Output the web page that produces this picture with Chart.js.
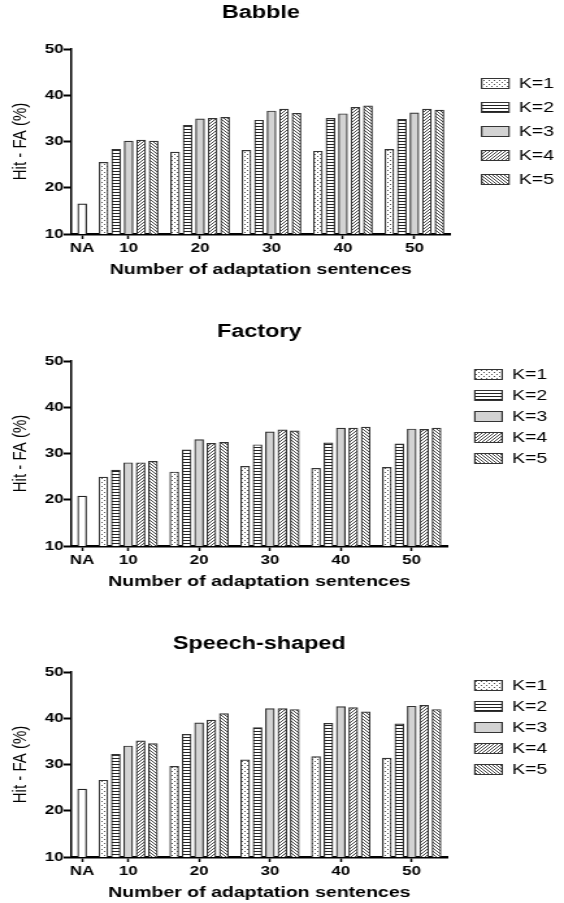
<!DOCTYPE html>
<html>
<head>
<meta charset="utf-8">
<script src="https://cdn.jsdelivr.net/npm/chart.js@4"></script>
<style>
  body { margin: 0; overflow: hidden; background: #fff; }
  #wrap { position: relative; width: 564px; height: 903px; overflow: hidden; }
  /* the figure is stretched sideways, so every panel is drawn narrow and widened */
  canvas { position: absolute; left: 0; transform: scaleX(1.2995); transform-origin: 0 0; }
</style>
</head>
<body>
<div id="wrap">
  <canvas id="babble" width="434" height="290"></canvas>
  <canvas id="factory" width="434" height="290"></canvas>
  <canvas id="speech" width="434" height="290"></canvas>
</div>
<script>
const categories = ['NA', '10', '20', '30', '40', '50'];
const seriesLabels = ['K=1', 'K=2', 'K=3', 'K=4', 'K=5'];
const yTicks = [10, 20, 30, 40, 50];

// Babble
const babbleNA = 16.5;
const babbleK1 = [25.5, 27.7, 28.1, 27.9, 28.3];
const babbleK2 = [28.3, 33.5, 34.6, 35.0, 34.8];
const babbleK3 = [30.1, 34.9, 36.6, 36.0, 36.2];
const babbleK4 = [30.3, 35.0, 37.0, 37.4, 37.0];
const babbleK5 = [30.1, 35.2, 36.1, 37.7, 36.8];

// Factory
const factoryNA = 20.8;
const factoryK1 = [24.9, 26.0, 27.2, 26.8, 27.0];
const factoryK2 = [26.4, 30.8, 31.9, 32.3, 32.1];
const factoryK3 = [28.0, 33.0, 34.7, 35.5, 35.3];
const factoryK4 = [28.0, 32.2, 35.1, 35.5, 35.2];
const factoryK5 = [28.3, 32.4, 34.9, 35.7, 35.5];

// Speech-shaped
const speechNA = 24.7;
const speechK1 = [26.6, 29.6, 31.0, 31.7, 31.4];
const speechK2 = [32.2, 36.5, 38.0, 38.9, 38.8];
const speechK3 = [34.0, 39.0, 42.1, 42.5, 42.6];
const speechK4 = [35.1, 39.6, 42.1, 42.3, 42.8];
const speechK5 = [34.5, 41.0, 41.9, 41.4, 41.9];

Chart.defaults.font.family = "'Liberation Sans', Arial, sans-serif";
Chart.defaults.color = '#000';

// x positions: groups sit at their sentence count, NA bar a bit left of 10
const NA_X = 3.5;
const BAR_STEP = 1.75;
const groupX = categories.slice(1).map(Number);
const tickX = [NA_X].concat(groupX);

function pattern(w, h, draw) {
  const c = document.createElement('canvas');
  c.width = w;
  c.height = h;
  const g = c.getContext('2d');
  g.fillStyle = '#fff';
  g.fillRect(0, 0, w, h);
  draw(g);
  return g.createPattern(c, 'repeat');
}

const fills = [
  pattern(4, 4, g => { g.fillStyle = '#555'; g.fillRect(0, 0, 1, 1); g.fillRect(2, 2, 1, 1); }),
  pattern(4, 3, g => { g.fillStyle = '#222'; g.fillRect(0, 0, 4, 1); }),
  '#d3d3d3',
  pattern(3, 3, g => { g.fillStyle = '#444'; g.fillRect(2, 0, 1, 1); g.fillRect(1, 1, 1, 1); g.fillRect(0, 2, 1, 1); }),
  pattern(3, 3, g => { g.fillStyle = '#444'; g.fillRect(0, 0, 1, 1); g.fillRect(1, 1, 1, 1); g.fillRect(2, 2, 1, 1); })
];

function drawPanel(id, title, naValue, kSeries, look) {
  const canvas = document.getElementById(id);
  canvas.style.top = look.top + 'px';

  const datasets = [{
    label: 'NA',
    data: [{x: NA_X, y: naValue}],
    backgroundColor: '#fff',
    borderColor: '#222',
    borderWidth: 1.2
  }];
  kSeries.forEach((vals, k) => {
    datasets.push({
      label: seriesLabels[k],
      data: groupX.map((g, i) => ({x: g + (k - 2) * BAR_STEP, y: vals[i]})),
      backgroundColor: fills[k],
      borderColor: '#333',
      borderWidth: 1.2
    });
  });

  new Chart(canvas, {
    type: 'bar',
    data: {datasets: datasets},
    options: {
      responsive: false,
      animation: false,
      events: [],
      grouped: false,
      barPercentage: 1,
      categoryPercentage: 1,
      maxBarThickness: 6.8,
      layout: {padding: {left: 0, right: look.padRight, top: 0, bottom: 10}},
      plugins: {
        title: {
          display: true,
          text: title,
          fullSize: false,
          font: {size: 18, weight: 'bold'},
          padding: {top: look.titleTop, bottom: look.titleBottom}
        },
        legend: {
          position: 'right',
          align: 'start',
          fullSize: false,
          title: {
            display: look.legendDrop > 0,
            text: ' ',
            font: {size: 1, lineHeight: 1},
            padding: {top: 0, bottom: look.legendDrop}
          },
          labels: {
            boxWidth: 21,
            boxHeight: 10,
            padding: look.legendPad,
            font: {size: 15},
            color: '#000',
            filter: item => item.datasetIndex > 0
          }
        },
        tooltip: {enabled: false}
      },
      scales: {
        x: {
          type: 'linear',
          offset: false,
          min: 2,
          max: 55,
          afterBuildTicks: scale => { scale.ticks = tickX.map(v => ({value: v})); },
          afterFit: scale => { scale.height = 46; },
          ticks: {
            font: {size: 13, weight: 'bold'},
            color: '#000',
            padding: 2,
            maxRotation: 0,
            autoSkip: false,
            callback: (value, index) => categories[index]
          },
          grid: {offset: false, drawOnChartArea: false, tickLength: 5, tickColor: '#000', tickWidth: 1.5},
          border: {color: '#000', width: 2.5},
          title: {
            display: true,
            text: 'Number of adaptation sentences',
            font: {size: 15, weight: 'bold'},
            padding: {top: 2, bottom: 1}
          }
        },
        y: {
          min: 10,
          max: 50,
          afterBuildTicks: scale => { scale.ticks = yTicks.map(v => ({value: v})); },
          afterFit: scale => { scale.width = 55; },
          ticks: {font: {size: 13, weight: 'bold'}, color: '#000', padding: 0},
          grid: {drawOnChartArea: false, tickLength: 6, tickColor: '#000', tickWidth: 2},
          border: {color: '#000', width: 1.5},
          title: {
            display: true,
            text: 'Hit - FA (%)',
            font: {size: 15},
            padding: {top: 6.4, bottom: 0}
          }
        },
        gap: {
          type: 'linear',
          position: 'right',
          display: true,
          ticks: {display: false},
          grid: {display: false},
          border: {display: false},
          afterFit: scale => { scale.width = 15.3; }
        }
      }
    }
  });
}

drawPanel('babble', 'Babble', babbleNA,
  [babbleK1, babbleK2, babbleK3, babbleK4, babbleK5],
  {top: 0, titleTop: 2.2, titleBottom: 25.2, legendPad: 9, legendDrop: 17, padRight: 0});

drawPanel('factory', 'Factory', factoryNA,
  [factoryK1, factoryK2, factoryK3, factoryK4, factoryK5],
  {top: 312, titleTop: 9.2, titleBottom: 18.2, legendPad: 6, legendDrop: 0, padRight: 3});

drawPanel('speech', 'Speech-shaped', speechNA,
  [speechK1, speechK2, speechK3, speechK4, speechK5],
  {top: 623, titleTop: 9.9, titleBottom: 17.5, legendPad: 6, legendDrop: 0, padRight: 3});
</script>
</body>
</html>
